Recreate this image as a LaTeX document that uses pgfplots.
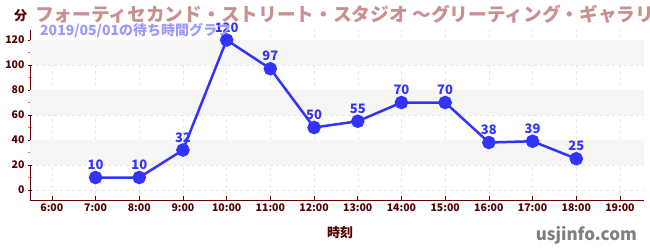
\documentclass[border=0pt]{standalone}
\usepackage{fontspec}
\setmainfont{Noto Sans CJK JP}
\usepackage{pgfplots}
\pgfplotsset{compat=1.18}
\definecolor{maroon}{HTML}{550000}
\definecolor{axisc}{HTML}{660000}
\definecolor{titlec}{HTML}{C89090}
\definecolor{subc}{HTML}{9999FF}
\definecolor{linec}{HTML}{3333FF}
\definecolor{minc}{HTML}{FF6666}
\definecolor{band}{HTML}{F6F6F6}
\definecolor{gridc}{HTML}{E6E6E6}
\begin{document}
\begin{tikzpicture}[x=1pt,y=1pt]
\useasboundingbox (0,0) rectangle (650,250);
\begin{axis}[
  at={(30pt,50pt)}, anchor=south west,
  width=614pt, height=170pt, scale only axis,
  xmin=5.5, xmax=19.55, ymin=-8, ymax=128,
  axis x line*=bottom, axis y line*=left,
  axis line style={axisc, line width=0.8pt, -},
  xtick={6,...,19},
  xticklabels={6:00,7:00,8:00,9:00,10:00,11:00,12:00,13:00,14:00,15:00,16:00,17:00,18:00,19:00},
  ytick={0,20,...,120},
  minor y tick num=1,
  /pgf/number format/assume math mode=true,
  ticklabel style={font=\fontsize{10.5}{12}\selectfont\bfseries, text=maroon},
  x tick style={axisc, line width=0.6pt},
  y tick style={axisc, line width=0.6pt},
  minor y tick style={minc, line width=0.8pt},
  xtick align=inside,
  ytick align=center,
  major tick length=4pt, minor tick length=3pt,
  xmajorgrids, ymajorgrids,
  major grid style={gridc, dashed, line width=0.5pt},
  xlabel={時刻},
  xlabel style={font=\fontsize{13}{15}\selectfont\bfseries, text=maroon, yshift=-8pt, xshift=3pt},
  clip=false,
  nodes near coords,
  every node near coord/.append style={font=\fontsize{13}{15}\selectfont\bfseries, text=linec, anchor=south, yshift=3pt},
]
\fill[band] (axis cs:5.5,100) rectangle (axis cs:19.55,120);
\fill[band] (axis cs:5.5,60) rectangle (axis cs:19.55,80);
\fill[band] (axis cs:5.5,20) rectangle (axis cs:19.55,40);
\addplot[color=linec, line width=2.5pt, mark=*, mark size=5.5pt, mark options={fill=linec, draw=linec}]
coordinates {(7,10) (8,10) (9,32) (10,120) (11,97) (12,50) (13,55) (14,70) (15,70) (16,38) (17,39) (18,25)};
\end{axis}
\node[anchor=base west, font=\fontsize{18.7}{22}\selectfont\bfseries, text=titlec, inner sep=0pt] at (35,229) {フォーティセカンド・ストリート・スタジオ ～グリーティング・ギャラリー};
\node[anchor=base west, font=\fontsize{13}{15}\selectfont\bfseries, text=maroon, inner sep=0pt] at (14,230) {分};
\node[anchor=base west, font=\fontsize{14}{16}\selectfont\bfseries, text=subc, inner sep=0pt] at (40,215) {2019/05/01の待ち時間グラフ};
\node[anchor=base east, font=\fontsize{17}{20}\selectfont\bfseries, text=black!50, inner sep=0pt] at (637,10) {usjinfo.com};
\end{tikzpicture}
\end{document}
